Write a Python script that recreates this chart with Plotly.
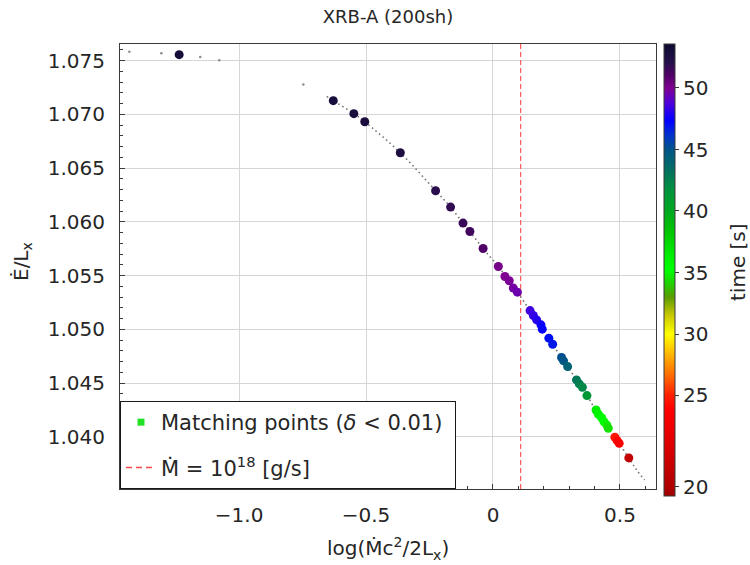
import numpy as np
import plotly.graph_objects as go

# Matching points: log(Mdot c^2 / 2 Lx), Edot/Lx and simulation time [s]
log_mdot = [-1.236, -0.629, -0.548, -0.505, -0.365, -0.226, -0.167, -0.118, -0.091, -0.039,
            0.021, 0.047, 0.064, 0.080, 0.096, 0.146, 0.159, 0.172, 0.189, 0.194,
            0.220, 0.235, 0.270, 0.278, 0.294, 0.329, 0.340, 0.352, 0.370, 0.406,
            0.415, 0.428, 0.437, 0.448, 0.454, 0.480, 0.489, 0.497, 0.535]
edot_lx = [1.07556, 1.07128, 1.07007, 1.06932, 1.06643, 1.06290, 1.06138, 1.05989, 1.05911, 1.05752,
           1.05585, 1.05492, 1.05452, 1.05384, 1.05346, 1.05175, 1.05129, 1.05088, 1.05042, 1.05002,
           1.04918, 1.04862, 1.04738, 1.04707, 1.04654, 1.04530, 1.04493, 1.04462, 1.04384, 1.04250,
           1.04210, 1.04178, 1.04141, 1.04111, 1.04080, 1.03996, 1.03965, 1.03940, 1.03804]
time_s = [53.0, 52.9, 52.8, 52.7, 52.5, 52.0, 51.8, 51.6, 51.4, 51.0,
          50.2, 50.0, 49.9, 49.7, 49.5, 48.5, 48.3, 48.0, 47.6, 47.4,
          47.0, 46.8, 45.2, 44.9, 44.2, 43.0, 42.6, 42.2, 41.2, 36.5,
          36.0, 35.6, 35.2, 34.8, 34.5, 24.8, 24.3, 23.8, 21.0]

# Sparse samples of the full track (early part)
track_sparse_x = [-1.432, -1.306, -1.153, -1.078, -0.747]
track_sparse_y = [1.07584, 1.07568, 1.07534, 1.07503, 1.07279]

# Dense part of the full track
track_x = [-0.655, -0.629, -0.548, -0.505, -0.365, -0.226, -0.167, -0.118, -0.091, -0.039,
           0.021, 0.064, 0.096, 0.146, 0.194, 0.235, 0.278, 0.329, 0.370, 0.415,
           0.454, 0.489, 0.535, 0.566, 0.597]
track_y = [1.07168, 1.07128, 1.07007, 1.06932, 1.06643, 1.06290, 1.06138, 1.05989, 1.05911, 1.05752,
           1.05585, 1.05452, 1.05346, 1.05175, 1.05002, 1.04862, 1.04707, 1.04530, 1.04384, 1.04210,
           1.04080, 1.03965, 1.03804, 1.03692, 1.03599]

# Accretion rate Mdot = 1e18 g/s in the x-axis variable
x_mdot18 = 0.109

# Colorbar ticks
cbar_ticks = [20, 25, 30, 35, 40, 45, 50]

X_RANGE = [-1.469, 0.642]
Y_RANGE = [1.03515, 1.07655]

# Position of each tick along the colorbar (0 = bottom, 1 = top)
cbar_pos = [0.020, 0.223, 0.358, 0.494, 0.631, 0.766, 0.903]
cbar_top_time = 53.57


def bar_position(t):
    return np.interp(t, cbar_ticks + [cbar_top_time], cbar_pos + [1.0])


colorscale = [
    [0.000, "#a00000"], [0.020, "#b00000"], [0.120, "#e00000"], [0.190, "#ff0000"],
    [0.223, "#ff2000"], [0.260, "#ff6000"], [0.300, "#ffa000"], [0.358, "#ffff00"],
    [0.400, "#c8c800"], [0.440, "#5a9c00"], [0.470, "#20d000"], [0.500, "#00ff00"],
    [0.530, "#00f000"], [0.580, "#00c800"], [0.631, "#00a820"], [0.680, "#009040"],
    [0.720, "#007060"], [0.766, "#005588"], [0.800, "#0030d0"], [0.830, "#0000ff"],
    [0.870, "#5000d8"], [0.903, "#800090"], [0.930, "#500068"], [0.960, "#25104a"],
    [1.000, "#0d0b30"],
]

FONT = "DejaVu Sans"
INK = "#262626"
FRAME = "#3a3a3a"
MDOT_RED = "#ff4a4a"

fig = go.Figure()

# Legend-only entries
fig.add_trace(go.Scatter(
    x=[None], y=[None], mode="markers", legendgroup="a",
    marker=dict(symbol="square", size=7, color="#22e022"),
    name="Matching points (<i>δ</i> &lt; 0.01)&nbsp;"))

fig.add_trace(go.Scatter(
    x=[None], y=[None], mode="lines", legendgroup="b",
    line=dict(color=MDOT_RED, width=1.6, dash="6px,4px"),
    name="Ṁ = 10<sup>18</sup> [g/s]"))

fig.add_trace(go.Scatter(
    x=[x_mdot18, x_mdot18], y=Y_RANGE, mode="lines",
    line=dict(color=MDOT_RED, width=1.1, dash="5px,3px"),
    showlegend=False, hoverinfo="skip"))

fig.add_trace(go.Scatter(
    x=track_sparse_x, y=track_sparse_y, mode="markers",
    marker=dict(size=2.5, color="#8a8a8a", line=dict(width=0)),
    showlegend=False, hoverinfo="skip"))

fig.add_trace(go.Scatter(
    x=track_x, y=track_y, mode="lines",
    line=dict(color="#7a7a7a", width=1.6, dash="1.6px,3px", shape="spline"),
    showlegend=False, hoverinfo="skip"))

fig.add_trace(go.Scatter(
    x=log_mdot, y=edot_lx, mode="markers",
    marker=dict(
        size=9, color=bar_position(np.array(time_s)), colorscale=colorscale,
        cmin=0, cmax=1, line=dict(width=0),
        colorbar=dict(
            x=(664 - 120) / 536, xanchor="left", xpad=0,
            y=1.0, yanchor="top", ypad=0,
            lenmode="pixels", len=452, thickness=11,
            outlinewidth=1, outlinecolor=FRAME,
            tickvals=cbar_pos, ticktext=[str(t) for t in cbar_ticks],
            ticks="outside", ticklen=4, tickcolor=FRAME,
            tickfont=dict(family=FONT, size=20, color=INK),
        ),
    ),
    showlegend=False, customdata=time_s,
    hovertemplate="x=%{x}<br>y=%{y}<br>t=%{customdata} s<extra></extra>"))

axis_common = dict(
    showline=True, mirror=True, linecolor=FRAME, linewidth=1,
    showgrid=True, gridcolor="#d6d6d6", gridwidth=1, zeroline=False,
    ticks="inside", ticklen=5, tickcolor=FRAME, tickwidth=1,
    tickfont=dict(family=FONT, size=20, color=INK),
)

fig.update_xaxes(range=X_RANGE, tickvals=[-1.0, -0.5, 0, 0.5],
                 ticktext=["\u22121.0", "\u22120.5", "0", "0.5"],
                 minor=dict(dtick=0.1, tick0=0, ticks="inside", ticklen=3,
                            tickcolor=FRAME, showgrid=False),
                 ticklabelstandoff=8, **axis_common)
fig.update_yaxes(range=Y_RANGE, tickvals=[1.040, 1.045, 1.050, 1.055, 1.060, 1.065, 1.070, 1.075],
                 ticktext=["1.040", "1.045", "1.050", "1.055", "1.060", "1.065", "1.070", "1.075"],
                 minor=dict(dtick=0.001, tick0=1.0, ticks="inside", ticklen=3,
                            tickcolor=FRAME, showgrid=False),
                 ticklabelstandoff=10, **axis_common)

fig.update_layout(
    width=750, height=565,
    margin=dict(l=120, r=94, t=44, b=76),
    paper_bgcolor="white", plot_bgcolor="white",
    font=dict(family=FONT, size=20, color=INK),
    title=dict(text="XRB-A (200sh)", x=388 / 750, xanchor="center",
               y=1 - 17 / 565, yanchor="middle",
               font=dict(family=FONT, size=18, color=INK)),
    legend=dict(x=0, y=0, xanchor="left", yanchor="bottom",
                bgcolor="white", bordercolor="#1a1a1a", borderwidth=1,
                font=dict(family=FONT, size=21, color=INK),
                traceorder="grouped", tracegroupgap=15, itemwidth=30),
    annotations=[
        dict(text="log(Ṁc<sup>2</sup>/2L<sub>x</sub>)", xref="paper", yref="paper",
             x=0.5, y=(489 - 548) / 445, xanchor="center", yanchor="middle",
             showarrow=False, font=dict(family=FONT, size=20, color=INK)),
        dict(text="Ė/L<sub>x</sub>", xref="paper", yref="paper",
             x=(22 - 120) / 536, y=(489 - 262) / 445, xanchor="center", yanchor="middle",
             textangle=-90, showarrow=False, font=dict(family=FONT, size=20, color=INK)),
        dict(text="time [s]", xref="paper", yref="paper",
             x=(738 - 120) / 536, y=(489 - 262) / 445, xanchor="center", yanchor="middle",
             textangle=-90, showarrow=False, font=dict(family=FONT, size=20, color=INK)),
    ],
)

fig.write_html("out.html")
